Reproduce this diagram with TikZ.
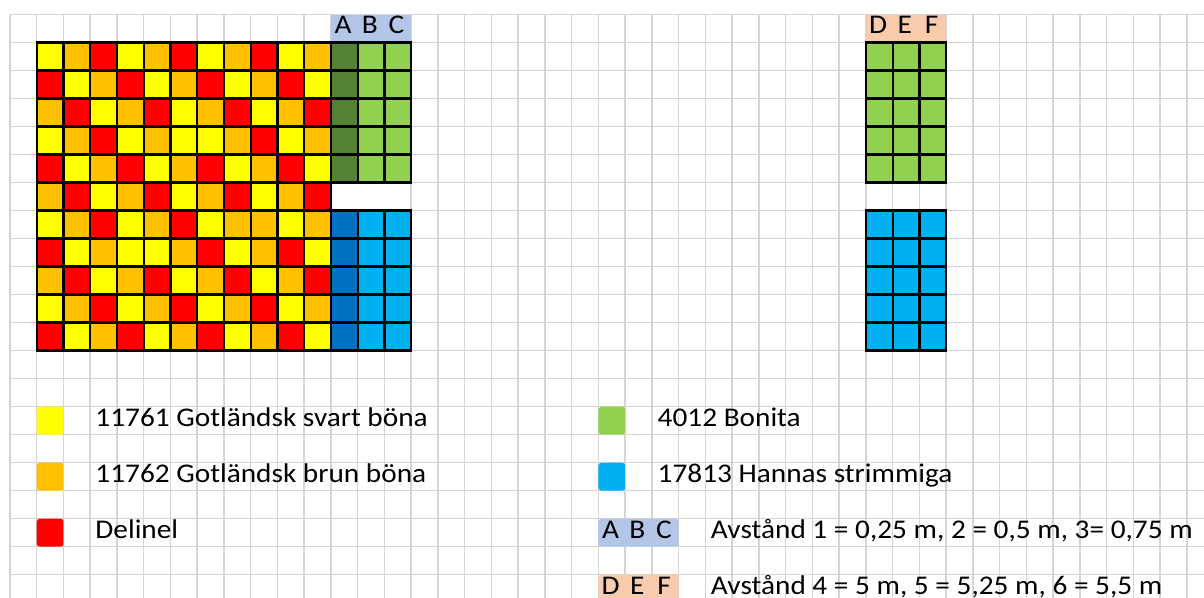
\documentclass[tikz,border=0pt]{standalone}
\usepackage{fontspec}
\setmainfont[FakeStretch=1.085]{Carlito}
\definecolor{bY}{HTML}{FFFF00}
\definecolor{bO}{HTML}{FFC000}
\definecolor{bR}{HTML}{FF0000}
\definecolor{bonitaD}{HTML}{548235}
\definecolor{bonita}{HTML}{92D050}
\definecolor{hannasD}{HTML}{0070C0}
\definecolor{hannas}{HTML}{00B0F0}
\definecolor{abc}{HTML}{B4C6E7}
\definecolor{def}{HTML}{F8CBAD}
\definecolor{gridgray}{HTML}{D4D4D4}

\begin{document}
\begin{tikzpicture}[x=13.375pt, y=-14pt, font=\fontsize{13.5}{16}\selectfont,
      gl/.style={draw=gridgray, line width=0.75pt},
      cell/.style={draw=black, line width=1.2pt},
      key/.style={rounded corners=1.5pt},
      lbl/.style={anchor=base west, inner sep=0pt},
      ltr/.style={anchor=base, inner sep=0pt}]
    \useasboundingbox (-0.3738,-0.525) rectangle (44.636,20.832);
    \fill[white] (-0.3738,-0.525) rectangle (44.636,20.832);
    % sheet grid
    \foreach \c in {0,...,44} \draw[gl] (\c,0) -- (\c,20.832);
    \foreach \r in {0,...,20} \draw[gl] (0,\r) -- (44.636,\r);
    % header cells
    \fill[abc] (12,0) rectangle (15,1);
    \fill[def] (32,0) rectangle (35,1);
    \fill[white] (12,6) rectangle (14.97,7);
    % mixed bed
    \foreach \row [count=\r] in {
        {Y,O,R,Y,O,R,Y,O,R,Y,O},
        {R,Y,O,R,Y,O,R,Y,O,R,Y},
        {O,R,Y,O,R,Y,O,R,Y,O,R},
        {Y,O,R,Y,O,Y,Y,O,R,Y,O},
        {R,Y,O,R,Y,O,R,Y,O,R,Y},
        {O,R,Y,O,R,Y,O,R,Y,O,R},
        {Y,O,R,Y,O,R,Y,O,O,Y,O},
        {R,Y,O,Y,Y,O,R,Y,O,R,Y},
        {O,R,Y,O,R,Y,O,R,Y,O,R},
        {Y,O,R,Y,O,R,Y,O,R,Y,O},
        {R,Y,O,R,Y,O,R,Y,O,R,Y}}{
      \foreach \b [count=\c] in \row
        \filldraw[cell, fill=b\b] (\c,\r) rectangle ++(1,1);
    }
    % bean rows A-C and D-F
    \foreach \r in {1,...,5} {
      \filldraw[cell, fill=bonitaD] (12,\r) rectangle ++(1,1);
      \foreach \c in {13,14,32,33,34}
        \filldraw[cell, fill=bonita] (\c,\r) rectangle ++(1,1);
    }
    \foreach \r in {7,...,11} {
      \filldraw[cell, fill=hannasD] (12,\r) rectangle ++(1,1);
      \foreach \c in {13,14,32,33,34}
        \filldraw[cell, fill=hannas] (\c,\r) rectangle ++(1,1);
    }
    \foreach \t [count=\i from 12] in {A,B,C}
      \node[ltr] (hdr\t) at (\i+0.45,0.67) {\t};
    \foreach \t [count=\i from 32] in {D,E,F}
      \node[ltr] (hdr\t) at (\i+0.45,0.67) {\t};
    % legend
    \fill[key, bY] (1,14) rectangle (2,15);
    \node[lbl] (txtY) at (3.18,14.69) {11761 Gotländsk svart böna};
    \fill[key, bO] (1,16) rectangle (2,17);
    \node[lbl] (txtO) at (3.18,16.69) {11762 Gotländsk brun böna};
    \fill[key, bR] (1,18) rectangle (2,19);
    \node[lbl] (txtR) at (3.18,18.69) {Delinel};
    \fill[key, bonita] (22,14) rectangle (23,15);
    \node[lbl] (txtG) at (24.2,14.69) {4012 Bonita};
    \fill[key, hannas] (22,16) rectangle (23,17);
    \node[lbl] (txtB) at (24.2,16.69) {17813 Hannas strimmiga};
    \fill[key, abc] (22,18) rectangle (25,19);
    \foreach \t [count=\i from 22] in {A,B,C}
      \node[ltr] (key\t) at (\i+0.45,18.69) {\t};
    \node[lbl] (txtABC) at (26.19,18.69) {Avstånd 1 = 0,25 m, 2 = 0,5 m, 3= 0,75 m};
    \fill[key, def] (22,20) rectangle (25,21);
    \foreach \t [count=\i from 22] in {D,E,F}
      \node[ltr] (key\t) at (\i+0.45,20.69) {\t};
    \node[lbl] (txtDEF) at (26.19,20.69) {Avstånd 4 = 5 m, 5 = 5,25 m, 6 = 5,5 m};
\end{tikzpicture}
\end{document}
